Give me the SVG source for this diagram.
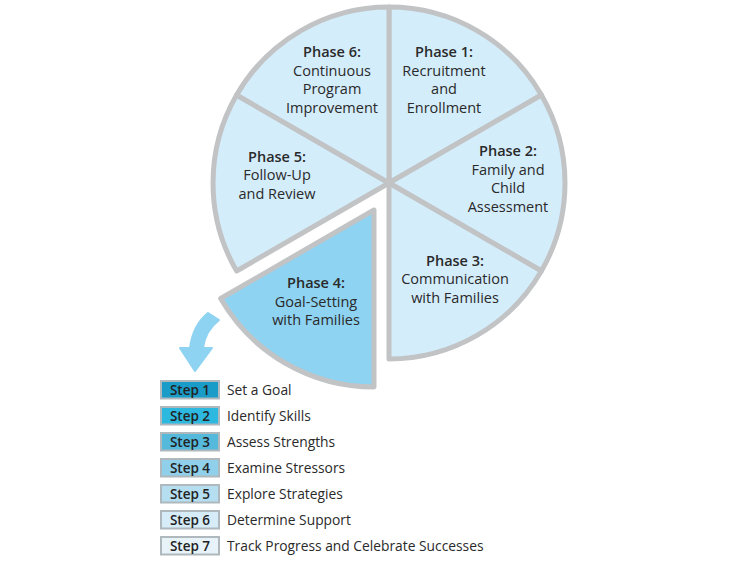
<svg xmlns="http://www.w3.org/2000/svg" width="750" height="572" viewBox="0 0 750 572">
<style>
.sec{fill:#d4edfb;stroke:#c1c3c5;stroke-width:5;stroke-linejoin:round}
.sec4{fill:#8ed3f2;stroke:#c1c3c5;stroke-width:5;stroke-linejoin:round}
.t{font-family:"Open Sans","Liberation Sans",Arial,sans-serif;font-size:14.5px;fill:#2a2a2a;text-anchor:middle}
.h{font-weight:600}
.sb{stroke:#aeb8bd;stroke-width:2}
.st{font-family:"Open Sans","Liberation Sans",Arial,sans-serif;font-size:13.5px;font-weight:600;fill:#222;text-anchor:middle}
.sl{font-family:"Open Sans","Liberation Sans",Arial,sans-serif;font-size:13.8px;fill:#2a2a2a}
</style>
<rect width="750" height="572" fill="#ffffff"/>
<g id="phase1"><path class="sec" d="M389,183 L389,7 A176,176 0 0 1 541.4,95 Z"/>
<text class="t"><tspan class="h" x="444" y="57">Phase 1:</tspan><tspan x="444" y="76">Recruitment</tspan><tspan x="444" y="94">and</tspan><tspan x="444" y="113">Enrollment</tspan></text></g>
<g id="phase2"><path class="sec" d="M389,183 L541.4,95 A176,176 0 0 1 541.4,271 Z"/>
<text class="t"><tspan class="h" x="508" y="156">Phase 2:</tspan><tspan x="508" y="175">Family and</tspan><tspan x="508" y="193">Child</tspan><tspan x="508" y="212">Assessment</tspan></text></g>
<g id="phase3"><path class="sec" d="M389,183 L541.4,271 A176,176 0 0 1 389,359 Z"/>
<text class="t"><tspan class="h" x="455" y="266">Phase 3:</tspan><tspan x="455" y="284">Communication</tspan><tspan x="455" y="303">with Families</tspan></text></g>
<g id="phase5"><path class="sec" d="M389,183 L236.6,271 A176,176 0 0 1 236.6,95 Z"/>
<text class="t"><tspan class="h" x="277" y="162">Phase 5:</tspan><tspan x="277" y="180">Follow-Up</tspan><tspan x="277" y="199">and Review</tspan></text></g>
<g id="phase6"><path class="sec" d="M389,183 L236.6,95 A176,176 0 0 1 389,7 Z"/>
<text class="t"><tspan class="h" x="332" y="57">Phase 6:</tspan><tspan x="332" y="76">Continuous</tspan><tspan x="332" y="94">Program</tspan><tspan x="332" y="113">Improvement</tspan></text></g>
<g id="phase4"><path class="sec4" d="M374,210 L374,387 A177,177 0 0 1 220.7,298.5 Z"/>
<text class="t"><tspan class="h" x="316" y="288">Phase 4:</tspan><tspan x="316" y="307">Goal-Setting</tspan><tspan x="316" y="325">with Families</tspan></text></g>
<g id="connectors">
<path d="M208,313 Q193,325 190,348 L180,348 L195,371 L212,348 L203,348 Q205,331 219,320 Z" fill="#8ed3f2" stroke="#8ed3f2" stroke-width="2" stroke-linejoin="round"/>
</g>
<g id="step1"><rect class="sb" x="161" y="381" width="58" height="17.5" fill="#1a9cc8"/><text class="st" x="190" y="394.5">Step 1</text><text class="sl" x="227" y="394.5">Set a Goal</text></g>
<g id="step2"><rect class="sb" x="161" y="407" width="58" height="17.5" fill="#2db8e0"/><text class="st" x="190" y="420.5">Step 2</text><text class="sl" x="227" y="420.5">Identify Skills</text></g>
<g id="step3"><rect class="sb" x="161" y="433" width="58" height="17.5" fill="#55b9dc"/><text class="st" x="190" y="446.5">Step 3</text><text class="sl" x="227" y="446.5">Assess Strengths</text></g>
<g id="step4"><rect class="sb" x="161" y="459" width="58" height="17.5" fill="#90d0ea"/><text class="st" x="190" y="472.5">Step 4</text><text class="sl" x="227" y="472.5">Examine Stressors</text></g>
<g id="step5"><rect class="sb" x="161" y="485" width="58" height="17.5" fill="#b6def1"/><text class="st" x="190" y="498.5">Step 5</text><text class="sl" x="227" y="498.5">Explore Strategies</text></g>
<g id="step6"><rect class="sb" x="161" y="511" width="58" height="17.5" fill="#d6ecf8"/><text class="st" x="190" y="524.5">Step 6</text><text class="sl" x="227" y="524.5">Determine Support</text></g>
<g id="step7"><rect class="sb" x="161" y="537" width="58" height="17.5" fill="#e8f3f9"/><text class="st" x="190" y="550.5">Step 7</text><text class="sl" x="227" y="550.5">Track Progress and Celebrate Successes</text></g>
</svg>
